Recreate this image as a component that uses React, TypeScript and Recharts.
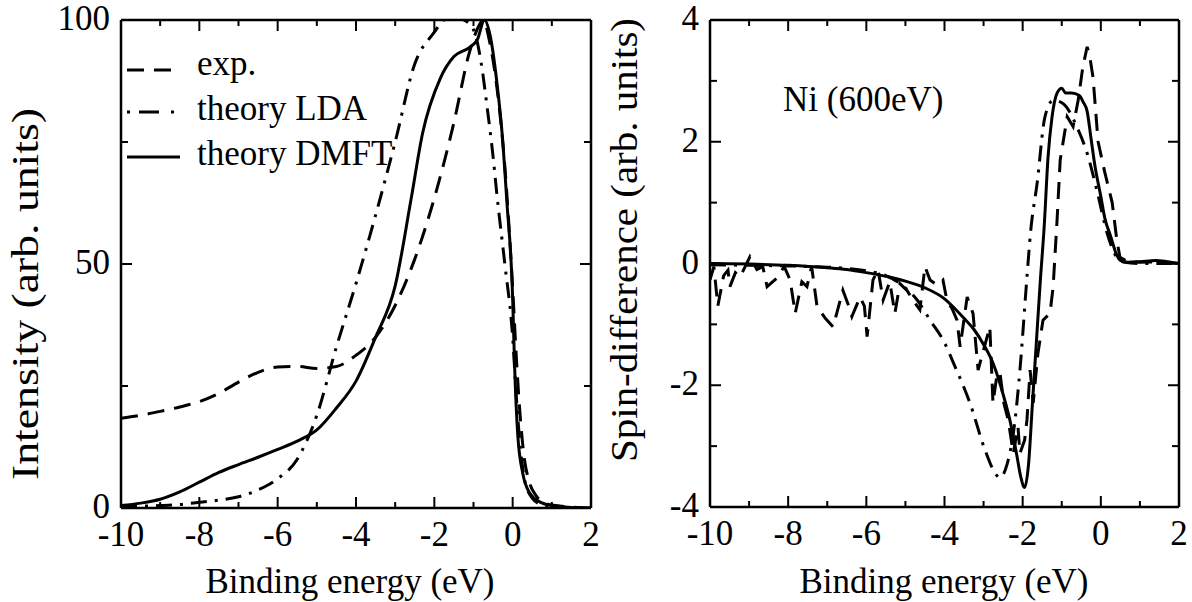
import React from "react";
import { Legend, Line, LineChart, XAxis, YAxis } from "recharts";

const FONT = '"Liberation Serif", "Times New Roman", serif';

// left panel: intensity (arb. units) vs binding energy (eV)
const expEnergy = [-10, -9.5, -9, -8.5, -8, -7.5, -7, -6.5, -6, -5.5, -5, -4.5, -4, -3.5, -3, -2.5, -2, -1.5, -1.1, -0.85, -0.75, -0.6, -0.4, -0.2, 0, 0.1, 0.2, 0.3, 0.4, 0.6, 0.8, 1, 1.5, 2];
const expIntensity = [18.4, 19, 19.8, 20.7, 21.8, 23.5, 25.8, 27.8, 28.9, 29, 28.6, 29, 31.3, 35, 41.5, 51, 63.5, 79, 93.5, 99, 100, 96, 86, 70, 45, 30, 18, 10, 6, 2.5, 1.2, 0.6, 0.2, 0];

const ldaEnergy = [-10, -9.5, -9, -8.5, -8, -7.5, -7, -6.5, -6, -5.5, -5, -4.5, -4, -3.5, -3, -2.5, -2, -1.75, -1.5, -1.25, -1, -0.8, -0.65, -0.5, -0.4, -0.2, 0, 0.1, 0.2, 0.3, 0.5, 0.7, 1, 2];
const ldaIntensity = [0.3, 0.4, 0.5, 0.7, 1.2, 1.6, 2.3, 3.7, 6, 10, 19, 33, 46, 60, 75, 91, 97.5, 100, 100.5, 100, 98, 91, 82, 72, 64, 50, 35, 22, 12, 6, 2, 0.8, 0.2, 0];

const dmftEnergy = [-10, -9.5, -9, -8.5, -8, -7.5, -7, -6.5, -6, -5.5, -5, -4.5, -4, -3.5, -3, -2.6, -2.3, -1.85, -1.5, -1.1, -0.9, -0.72, -0.58, -0.4, -0.27, -0.15, 0, 0.05, 0.13, 0.26, 0.44, 0.7, 1, 1.5, 2];
const dmftIntensity = [0.5, 1, 1.8, 3.3, 5.3, 7.3, 8.9, 10.4, 12, 13.7, 16, 20.5, 26, 35, 45.5, 63, 76.8, 88, 92.5, 94.4, 96, 100, 97, 87, 76.8, 63, 43, 29, 15, 7, 3, 1.2, 0.5, 0.1, 0];

// right panel: spin-difference (arb. units), Ni (600eV)
const spinExpEnergy = [-10, -9.9, -9.8, -9.65, -9.54, -9.49, -9.35, -9.23, -9.1, -8.98, -8.8, -8.65, -8.54, -8.4, -8.29, -8.1, -7.95, -7.82, -7.65, -7.52, -7.4, -7.26, -7.05, -6.85, -6.6, -6.45, -6.37, -6.16, -6.05, -5.98, -5.83, -5.7, -5.57, -5.4, -5.27, -5.14, -4.95, -4.81, -4.63, -4.5, -4.37, -4.2, -4.04, -3.94, -3.8, -3.68, -3.6, -3.42, -3.27, -3.14, -2.95, -2.84, -2.76, -2.65, -2.58, -2.48, -2.37, -2.24, -2.12, -2.07, -1.95, -1.89, -1.81, -1.73, -1.61, -1.48, -1.3, -1.22, -1.17, -1.12, -1.04, -0.86, -0.71, -0.58, -0.46, -0.35, -0.28, -0.2, -0.07, 0.1, 0.29, 0.41, 0.49, 0.7, 1, 1.5, 2];
const spinExp = [-0.27, -0.05, -0.7, -0.2, -0.11, -0.38, -0.15, -0.22, -0.05, 0.11, -0.1, -0.05, -0.38, -0.3, -0.24, -0.05, -0.27, -0.82, -0.3, -0.38, -0.05, -0.71, -0.9, -1.04, -0.44, -0.7, -0.87, -0.55, -0.7, -1.2, -0.27, -0.1, -0.6, -0.3, -0.82, -0.33, -0.45, -0.6, -0.76, -0.05, -0.27, -0.35, -0.27, -0.6, -0.75, -0.93, -1.37, -0.55, -0.82, -1.75, -1.3, -1.04, -2.29, -1.8, -1.8, -2.3, -2.57, -3.12, -2.68, -3.12, -2.9, -2.57, -1.75, -2.29, -1.48, -0.93, -0.82, -0.38, 0.17, 0.71, 1.7, 2.41, 2.25, 2.68, 3.23, 3.56, 3.39, 3.06, 2, 1.5, 1, 0.38, 0.1, 0.03, 0.02, 0.03, 0];

const spinLdaEnergy = [-10, -9, -8, -7, -6.5, -6, -5.5, -5, -4.7, -4.37, -4, -3.78, -3.35, -2.96, -2.7, -2.58, -2.4, -2.2, -2.07, -1.89, -1.8, -1.63, -1.43, -1.22, -0.97, -0.61, -0.35, -0.1, 0.16, 0.41, 0.6, 1, 2];
const spinLda = [-0.02, -0.03, -0.04, -0.06, -0.08, -0.12, -0.2, -0.4, -0.6, -0.93, -1.3, -1.62, -2.29, -3.07, -3.45, -3.52, -3.3, -2.6, -1.75, -0.22, 0.5, 1.32, 2.41, 2.68, 2.63, 2.24, 1.81, 1.2, 0.5, 0.1, 0.02, 0, 0];

const spinDmftEnergy = [-10, -9, -8, -7, -6.5, -6, -5.5, -5, -4.5, -4, -3.75, -3.5, -3.25, -3, -2.75, -2.5, -2.3, -2.15, -2.05, -1.95, -1.85, -1.75, -1.65, -1.55, -1.45, -1.35, -1.25, -1.12, -1, -0.9, -0.75, -0.55, -0.45, -0.35, -0.25, -0.15, 0, 0.1, 0.25, 0.4, 0.5, 0.7, 1, 1.4, 1.7, 2];
const spinDmft = [0, -0.01, -0.03, -0.07, -0.1, -0.15, -0.21, -0.29, -0.4, -0.58, -0.73, -0.9, -1.08, -1.33, -1.65, -2.15, -2.65, -3.15, -3.5, -3.68, -3.3, -2.3, -1.3, -0.3, 0.6, 1.75, 2.4, 2.8, 2.88, 2.8, 2.8, 2.76, 2.65, 2.5, 2.05, 1.6, 1.1, 0.75, 0.45, 0.15, 0.05, 0.02, 0.03, 0.05, 0.03, 0];

const energyTicks = [-10, -9, -8, -7, -6, -5, -4, -3, -2, -1, 0, 1, 2];
const intensityTicks = [0, 25, 50, 75, 100];
const spinTicks = [-4, -3, -2, -1, 0, 1, 2, 3, 4];

const legendItems = ["exp.", "theory LDA", "theory DMFT"];

const EXP_DASH = "17 10";
const LDA_DASH = "16 8 3 8";
const legendDashes = [EXP_DASH, "3 9 20 12 3 20", undefined];

const toPoints = (xs: number[], ys: number[]) => xs.map((e, i) => ({ e, v: ys[i] }));

function BottomTick({ x, y, payload, step }: any) {
  const major = payload.value % step === 0;
  return (
    <g>
      <line x1={x} y1={y} x2={x} y2={y - (major ? 11 : 6)} stroke="#000" strokeWidth={2} />
      {major && (
        <text x={x} y={y + 38} textAnchor="middle" fontSize={35} fontFamily={FONT} fill="#000">
          {payload.value}
        </text>
      )}
    </g>
  );
}

function TopTick({ x, y, payload, step }: any) {
  const major = payload.value % step === 0;
  return <line x1={x} y1={y} x2={x} y2={y + (major ? 11 : 6)} stroke="#000" strokeWidth={2} />;
}

function LeftTick({ x, y, payload, step }: any) {
  const major = payload.value % step === 0;
  return (
    <g>
      <line x1={x} y1={y} x2={x + (major ? 11 : 7)} y2={y} stroke="#000" strokeWidth={2} />
      {major && (
        <text x={x - 11} y={y + 10} textAnchor="end" fontSize={35} fontFamily={FONT} fill="#000">
          {payload.value}
        </text>
      )}
    </g>
  );
}

function RightTick({ x, y, payload, step }: any) {
  const major = payload.value % step === 0;
  return <line x1={x} y1={y} x2={x - (major ? 11 : 7)} y2={y} stroke="#000" strokeWidth={2} />;
}

function Caption({ px, py, text, size = 35, rotate = false, length, anchor = "middle" }: any) {
  return (
    <text
      x={0}
      y={0}
      transform={`translate(${px},${py})${rotate ? " rotate(-90)" : ""}`}
      textAnchor={anchor}
      fontSize={size}
      fontFamily={FONT}
      fill="#000"
      textLength={length}
      lengthAdjust={length ? "spacingAndGlyphs" : undefined}
    >
      {text}
    </text>
  );
}

function LegendBox() {
  return (
    <svg width={280} height={140}>
      {legendItems.map((name, i) => {
        const ly = [30, 72, 117][i];
        return (
          <g key={name}>
            <line x1={7} y1={ly} x2={60} y2={ly} stroke="#000" strokeWidth={3} strokeDasharray={legendDashes[i]} />
            <text x={77} y={ly + 6 + (i === 0 ? -1 : 2)} fontSize={35} fontFamily={FONT} fill="#000">
              {name}
            </text>
          </g>
        );
      })}
    </svg>
  );
}

const axisLine = { stroke: "#000", strokeWidth: 2.5 };

export default function App() {
  const exp = toPoints(expEnergy, expIntensity);
  const lda = toPoints(ldaEnergy, ldaIntensity);
  const dmft = toPoints(dmftEnergy, dmftIntensity);
  const sExp = toPoints(spinExpEnergy, spinExp);
  const sLda = toPoints(spinLdaEnergy, spinLda);
  const sDmft = toPoints(spinDmftEnergy, spinDmft);

  return (
    <div style={{ position: "absolute", left: 0, top: 0, width: 1192, height: 602, background: "#fff" }}>
      <div style={{ position: "absolute", left: 0, top: 0 }}>
        <LineChart width={600} height={602} margin={{ top: 0, right: 0, bottom: 0, left: 0 }}>
          <XAxis
            xAxisId="bottom"
            type="number"
            dataKey="e"
            domain={[-10, 2]}
            ticks={energyTicks}
            interval={0}
            allowDataOverflow
            height={94}
            tickSize={0}
            tickMargin={0}
            axisLine={axisLine}
            tick={<BottomTick step={2} />}
            label={<Caption px={350} py={593} text="Binding energy (eV)" />}
          />
          <XAxis
            xAxisId="top"
            orientation="top"
            type="number"
            dataKey="e"
            domain={[-10, 2]}
            ticks={energyTicks}
            interval={0}
            allowDataOverflow
            height={20}
            tickSize={0}
            tickMargin={0}
            axisLine={axisLine}
            tick={<TopTick step={2} />}
          />
          <YAxis
            yAxisId="left"
            type="number"
            domain={[0, 100]}
            ticks={intensityTicks}
            interval={0}
            allowDataOverflow
            width={121}
            tickSize={0}
            tickMargin={0}
            axisLine={axisLine}
            tick={<LeftTick step={50} />}
            label={<Caption px={38} py={294} rotate size={38} length={372} text="Intensity (arb.  units)" />}
          />
          <YAxis
            yAxisId="right"
            orientation="right"
            type="number"
            domain={[0, 100]}
            ticks={intensityTicks}
            interval={0}
            allowDataOverflow
            width={9}
            tickSize={0}
            tickMargin={0}
            axisLine={axisLine}
            tick={<RightTick step={50} />}
          />
          <Legend
            content={<LegendBox />}
            layout="horizontal"
            verticalAlign="middle"
            align="center"
            wrapperStyle={{ left: 120, top: 40, width: 280, height: 140 }}
          />
          <Line xAxisId="top" yAxisId="right" data={dmft} dataKey="v" stroke="none" dot={false} legendType="none" isAnimationActive={false} />
          <Line xAxisId="bottom" yAxisId="left" data={exp} dataKey="v" name="exp." type="monotone" stroke="#000" strokeWidth={3} strokeDasharray={EXP_DASH} dot={false} isAnimationActive={false} />
          <Line xAxisId="bottom" yAxisId="left" data={lda} dataKey="v" name="theory LDA" type="monotone" stroke="#000" strokeWidth={3} strokeDasharray={LDA_DASH} dot={false} isAnimationActive={false} />
          <Line xAxisId="bottom" yAxisId="left" data={dmft} dataKey="v" name="theory DMFT" type="monotone" stroke="#000" strokeWidth={3} dot={false} isAnimationActive={false} />
        </LineChart>
      </div>

      <div style={{ position: "absolute", left: 600, top: 0 }}>
        <LineChart width={592} height={602} margin={{ top: 0, right: 0, bottom: 0, left: 0 }}>
          <XAxis
            xAxisId="bottom"
            type="number"
            dataKey="e"
            domain={[-10, 2]}
            ticks={energyTicks}
            interval={0}
            allowDataOverflow
            height={95}
            tickSize={0}
            tickMargin={0}
            axisLine={axisLine}
            tick={<BottomTick step={2} />}
            label={<Caption px={344} py={593} text="Binding energy (eV)" />}
          />
          <XAxis
            xAxisId="top"
            orientation="top"
            type="number"
            dataKey="e"
            domain={[-10, 2]}
            ticks={energyTicks}
            interval={0}
            allowDataOverflow
            height={20}
            tickSize={0}
            tickMargin={0}
            axisLine={axisLine}
            tick={<TopTick step={2} />}
            label={<Caption px={183} py={111} anchor="start" text="Ni (600eV)" />}
          />
          <YAxis
            yAxisId="left"
            type="number"
            domain={[-4, 4]}
            ticks={spinTicks}
            interval={0}
            allowDataOverflow
            width={110}
            tickSize={0}
            tickMargin={0}
            axisLine={axisLine}
            tick={<LeftTick step={2} />}
            label={<Caption px={37} py={240} rotate size={38} length={444} text="Spin-difference (arb. units)" />}
          />
          <YAxis
            yAxisId="right"
            orientation="right"
            type="number"
            domain={[-4, 4]}
            ticks={spinTicks}
            interval={0}
            allowDataOverflow
            width={13}
            tickSize={0}
            tickMargin={0}
            axisLine={axisLine}
            tick={<RightTick step={2} />}
          />
          <Line xAxisId="top" yAxisId="right" data={sDmft} dataKey="v" stroke="none" dot={false} legendType="none" isAnimationActive={false} />
          <Line xAxisId="bottom" yAxisId="left" data={sExp} dataKey="v" type="linear" stroke="#000" strokeWidth={3} strokeDasharray={EXP_DASH} dot={false} isAnimationActive={false} />
          <Line xAxisId="bottom" yAxisId="left" data={sLda} dataKey="v" type="monotone" stroke="#000" strokeWidth={3} strokeDasharray={LDA_DASH} dot={false} isAnimationActive={false} />
          <Line xAxisId="bottom" yAxisId="left" data={sDmft} dataKey="v" type="monotone" stroke="#000" strokeWidth={3} dot={false} isAnimationActive={false} />
        </LineChart>
      </div>
    </div>
  );
}
